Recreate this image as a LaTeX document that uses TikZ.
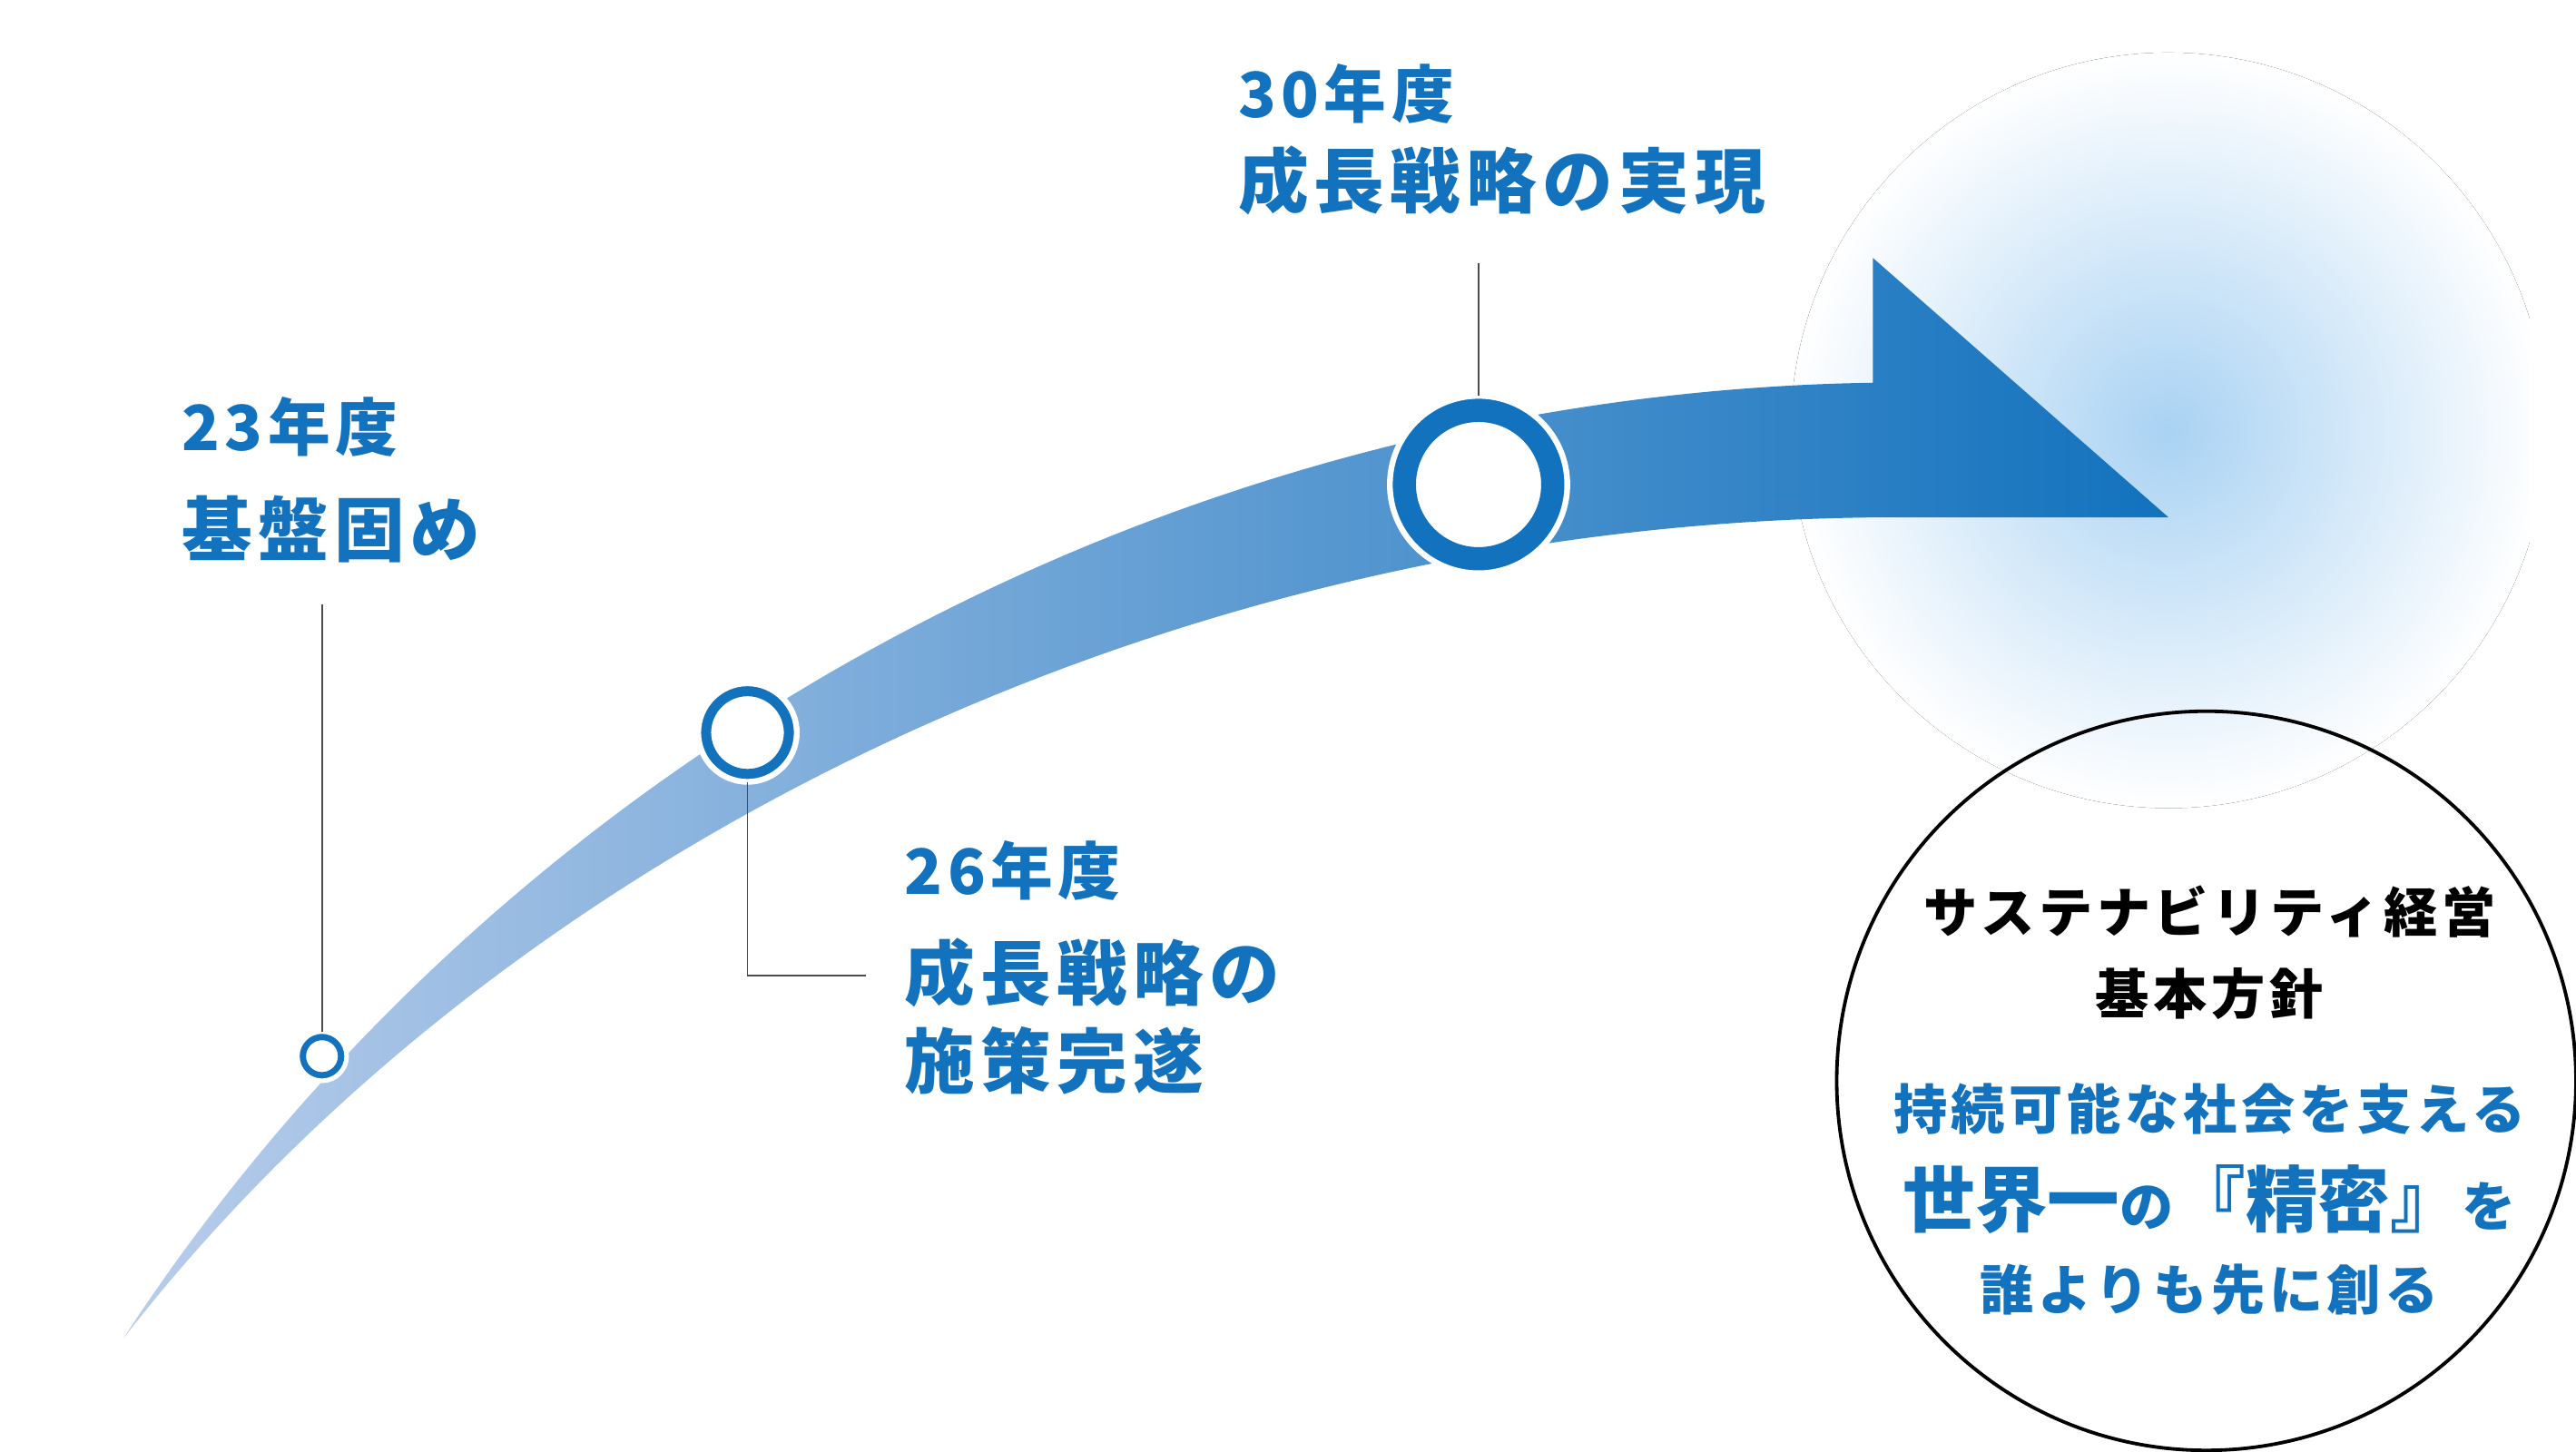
\documentclass[tikz,border=0pt]{standalone}
\usepackage{fontspec}
\newfontfamily\jp{Noto Sans CJK JP}[LetterSpace=8]
\newfontfamily\jpn{Noto Sans CJK JP}
\definecolor{mblue}{HTML}{1272BD}
\definecolor{lblue}{HTML}{B9CDEB}
\definecolor{glow}{HTML}{A9D2F3}
\begin{document}
\begin{tikzpicture}[x=0.01cm,y=-0.01cm,
  lbl/.style={anchor=west,inner sep=0,text=mblue,font=\jp\bfseries\fontsize{12.2}{14}\selectfont},
  yr/.style={anchor=west,inner sep=0,text=mblue,font=\jp\bfseries\fontsize{10.8}{12}\selectfont},
  ctext/.style={anchor=center,font=\jp\bfseries\fontsize{9.3}{11}\selectfont},
  lead/.style={draw=black!70,line width=0.3pt}]
\useasboundingbox (0,0) rectangle (1568,884);
% glow
\fill[inner color=glow,outer color=white,draw=none] (1320,262) circle (230);
\fill[white] (1540,0) rectangle (1568,884);
% band
\shade[left color=lblue,right color=mblue]
  (75,815) .. controls (300,470) and (700,240) .. (1140,233)
  -- (1140,157) -- (1320,315) -- (1140,315)
  .. controls (700,320) and (300,525) .. (75,815) -- cycle;
% leader lines
\coordinate (l1t) at (196,368);
\coordinate (l2e) at (527,594);
\coordinate (l3t) at (900,160);
\node[circle,minimum size=0.24cm,inner sep=0,draw=mblue,line width=1.3pt,fill=white] (c1) at (196,643) {};
\node[circle,minimum size=0.52cm,inner sep=0,draw=mblue,line width=2.2pt,fill=white] (c2) at (455,446) {};
\node[circle,minimum size=0.92cm,inner sep=0,draw=mblue,line width=4.5pt,fill=white] (c3) at (900,295) {};
\draw[white,line width=1pt] (900,295) circle (54);
\draw[white,line width=1pt] (455,446) circle (30);
\draw[white,line width=0.8pt] (196,643) circle (15);
\draw[lead] (l1t) -- (196,628);
\draw[lead] (455,476) |- (l2e);
\draw[lead] (l3t) -- (900,241);
% labels
\node[yr] (t1a) at (110,260) {23年度};
\node[lbl] (t1b) at (110,322) {基盤固め};
\node[yr] (t2a) at (550,530) {26年度};
\node[lbl] (t2b) at (550,592) {成長戦略の};
\node[lbl] (t2c) at (550,646) {施策完遂};
\node[yr] (t3a) at (753,57) {30年度};
\node[lbl] (t3b) at (753,110) {成長戦略の実現};
% policy circle
\draw[black,line width=0.6pt] (1343,658) circle (225);
\node[ctext] (p1) at (1345,555) {サステナビリティ経営};
\node[ctext] (p2) at (1345,605) {基本方針};
\node[ctext,text=mblue] (p3) at (1345,675) {持続可能な社会を支える};
\node[ctext,text=mblue,font=\jpn\bfseries\fontsize{9.3}{11}\selectfont] (p4) at (1345,730) {{\fontsize{12.5}{13}\selectfont 世界一}の{\fontsize{12.5}{13}\selectfont 『精密』}を};
\node[ctext,text=mblue] (p5) at (1345,785) {誰よりも先に創る};
\end{tikzpicture}
\end{document}
